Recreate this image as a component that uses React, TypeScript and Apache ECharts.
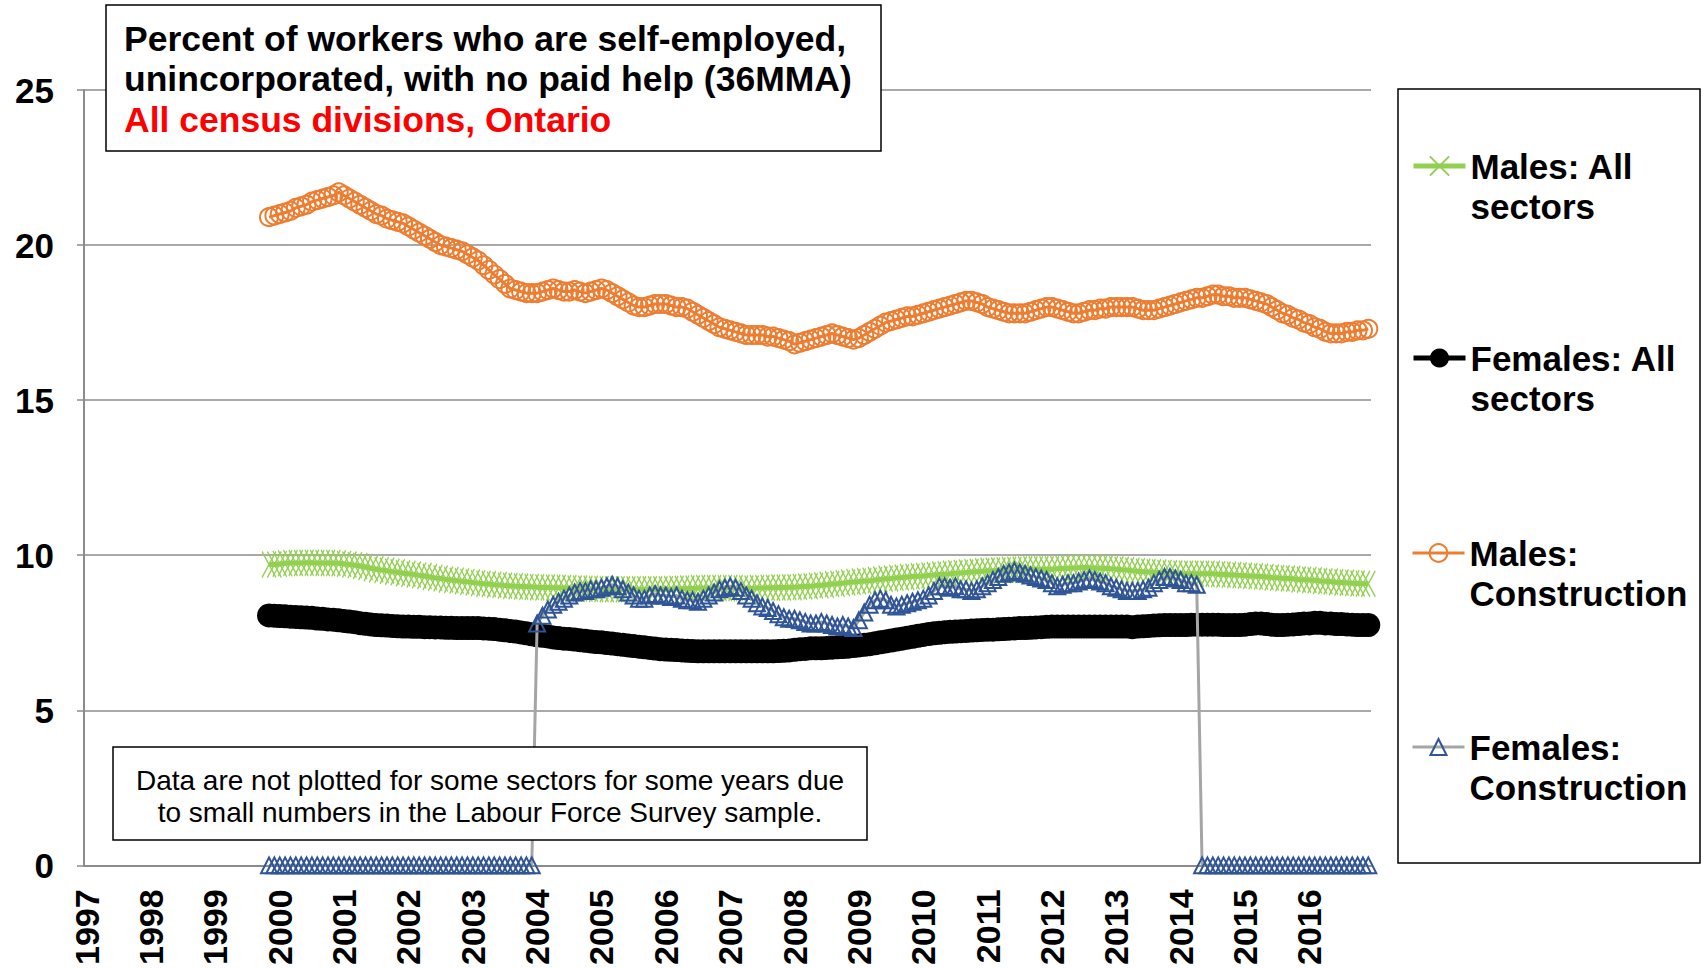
import React, { useEffect, useRef } from "react";
import * as echarts from "echarts";

const YEARS = ["1997","1998","1999","2000","2001","2002","2003","2004","2005","2006","2007","2008","2009","2010","2011","2012","2013","2014","2015","2016"];
const MONTHS = ["01","02","03","04","05","06","07","08","09","10","11","12"];
const FIRST_DATA_MONTH = "1999-11";
const Y_TICKS = [0, 5, 10, 15, 20, 25];

const SERIES_NAMES = ["Males: All sectors", "Females: All sectors", "Males: Construction", "Females: Construction"];
const LEGEND_LABELS = ["Males: All\nsectors", "Females: All\nsectors", "Males:\nConstruction", "Females:\nConstruction"];

// Values from Nov 1999 to Dec 2016
const MALES_ALL = [
  9.7, 9.7,
  9.72, 9.74, 9.75, 9.75, 9.75, 9.76, 9.76, 9.75, 9.75, 9.75, 9.75, 9.74,
  9.72, 9.7, 9.68, 9.65, 9.62, 9.58, 9.55, 9.52, 9.5, 9.47, 9.45, 9.42,
  9.4, 9.38, 9.35, 9.33, 9.3, 9.27, 9.25, 9.22, 9.2, 9.18, 9.16, 9.14,
  9.12, 9.1, 9.08, 9.07, 9.05, 9.04, 9.02, 9.01, 9.0, 8.99, 8.98, 8.98,
  8.97, 8.96, 8.96, 8.95, 8.95, 8.94, 8.94, 8.93, 8.93, 8.92, 8.92, 8.91,
  8.91, 8.9, 8.9, 8.9, 8.9, 8.9, 8.9, 8.9, 8.9, 8.9, 8.9, 8.9,
  8.9, 8.91, 8.92, 8.92, 8.93, 8.93, 8.94, 8.94, 8.94, 8.94, 8.94, 8.94,
  8.94, 8.94, 8.93, 8.93, 8.93, 8.94, 8.94, 8.95, 8.95, 8.96, 8.96, 8.97,
  8.97, 8.98, 8.99, 9.0, 9.02, 9.03, 9.05, 9.07, 9.08, 9.1, 9.12, 9.14,
  9.15, 9.17, 9.18, 9.2, 9.22, 9.24, 9.25, 9.27, 9.28, 9.3, 9.31, 9.32,
  9.33, 9.35, 9.36, 9.38, 9.39, 9.4, 9.42, 9.43, 9.44, 9.46, 9.47, 9.48,
  9.5, 9.5, 9.51, 9.52, 9.53, 9.53, 9.54, 9.55, 9.55, 9.55, 9.55, 9.55,
  9.55, 9.56, 9.57, 9.58, 9.59, 9.6, 9.6, 9.6, 9.59, 9.58, 9.57, 9.56,
  9.55, 9.53, 9.52, 9.5, 9.48, 9.47, 9.46, 9.45, 9.44, 9.43, 9.42, 9.41,
  9.4, 9.4, 9.4, 9.4, 9.4, 9.4, 9.4, 9.39, 9.38, 9.37, 9.36, 9.35,
  9.34, 9.33, 9.32, 9.31, 9.3, 9.28, 9.27, 9.26, 9.25, 9.24, 9.22, 9.21,
  9.2, 9.19, 9.17, 9.16, 9.15, 9.13, 9.12, 9.11, 9.1, 9.09, 9.08, 9.08
];

const FEMALES_ALL = [
  8.06, 8.05,
  8.04, 8.03, 8.02, 8.01, 8.0, 7.99, 7.98, 7.96, 7.95, 7.93, 7.92, 7.9,
  7.88, 7.86, 7.84, 7.81, 7.79, 7.77, 7.75, 7.74, 7.73, 7.72, 7.71, 7.7,
  7.7, 7.69, 7.69, 7.68, 7.68, 7.67, 7.67, 7.66, 7.66, 7.65, 7.65, 7.65,
  7.65, 7.65, 7.64, 7.63, 7.62, 7.6, 7.58, 7.56, 7.54, 7.51, 7.48, 7.45,
  7.42, 7.4, 7.38, 7.35, 7.33, 7.31, 7.3, 7.28, 7.26, 7.24, 7.22, 7.2,
  7.19, 7.17, 7.15, 7.13, 7.11, 7.09, 7.07, 7.05, 7.03, 7.01, 6.99, 6.97,
  6.96, 6.95, 6.94, 6.93, 6.92, 6.91, 6.9, 6.9, 6.9, 6.9, 6.9, 6.9,
  6.9, 6.9, 6.9, 6.9, 6.9, 6.9, 6.9, 6.9, 6.9, 6.91, 6.92, 6.93,
  6.95, 6.97, 6.98, 7.0, 7.0, 7.0, 7.01, 7.02, 7.03, 7.04, 7.05, 7.07,
  7.09, 7.11, 7.13, 7.16, 7.19, 7.22, 7.25, 7.28, 7.31, 7.34, 7.37, 7.4,
  7.43, 7.46, 7.48, 7.5, 7.52, 7.53, 7.54, 7.55, 7.56, 7.57, 7.58, 7.59,
  7.6, 7.6, 7.61, 7.62, 7.63, 7.64, 7.65, 7.65, 7.66, 7.67, 7.68, 7.69,
  7.7, 7.7, 7.7, 7.7, 7.7, 7.7, 7.7, 7.7, 7.7, 7.7, 7.7, 7.7,
  7.7, 7.7, 7.7, 7.68, 7.7, 7.71, 7.72, 7.73, 7.74, 7.75, 7.75, 7.75,
  7.75, 7.75, 7.76, 7.76, 7.76, 7.76, 7.76, 7.76, 7.75, 7.75, 7.75, 7.75,
  7.76, 7.78, 7.8, 7.8, 7.78, 7.76, 7.75, 7.75, 7.76, 7.77, 7.78, 7.8,
  7.8, 7.82, 7.82, 7.8, 7.8, 7.78, 7.78, 7.77, 7.76, 7.75, 7.75, 7.75
];

const MALES_CONSTRUCTION = [
  20.9, 20.95,
  21.0, 21.05, 21.1, 21.2, 21.25, 21.3, 21.4, 21.45, 21.5, 21.55, 21.6, 21.7,
  21.6, 21.5, 21.4, 21.3, 21.2, 21.1, 21.0, 20.95, 20.85, 20.8, 20.75, 20.7,
  20.6, 20.5, 20.4, 20.3, 20.2, 20.1, 20.0, 19.95, 19.9, 19.85, 19.8, 19.7,
  19.6, 19.5, 19.35, 19.2, 19.05, 18.9, 18.75, 18.6, 18.55, 18.5, 18.45, 18.45,
  18.45, 18.5, 18.55, 18.6, 18.55, 18.5, 18.5, 18.55, 18.5, 18.45, 18.5, 18.55,
  18.6, 18.55, 18.45, 18.35, 18.25, 18.15, 18.05, 18.0, 18.0, 18.05, 18.1, 18.1,
  18.1, 18.05, 18.0, 18.0, 17.95, 17.85, 17.75, 17.65, 17.55, 17.45, 17.35, 17.3,
  17.25, 17.2, 17.15, 17.1, 17.1, 17.1, 17.1, 17.05, 17.05, 17.0, 16.95, 16.9,
  16.8, 16.85, 16.9, 16.95, 17.0, 17.05, 17.1, 17.15, 17.1, 17.05, 17.0, 16.95,
  17.0, 17.1, 17.2, 17.3, 17.4, 17.5, 17.55, 17.6, 17.65, 17.7, 17.7, 17.75,
  17.8, 17.85, 17.9, 17.95, 18.0, 18.05, 18.1, 18.15, 18.2, 18.2, 18.15, 18.1,
  18.0, 17.95, 17.9, 17.85, 17.8, 17.8, 17.8, 17.8, 17.85, 17.9, 17.95, 18.0,
  18.0, 17.95, 17.9, 17.85, 17.8, 17.8, 17.85, 17.9, 17.9, 17.95, 17.95, 18.0,
  18.0, 18.0, 18.0, 18.0, 17.95, 17.9, 17.9, 17.9, 17.95, 18.0, 18.05, 18.1,
  18.15, 18.2, 18.25, 18.3, 18.3, 18.35, 18.4, 18.4, 18.35, 18.35, 18.3, 18.3,
  18.3, 18.25, 18.2, 18.15, 18.1, 18.0, 17.9, 17.8, 17.75, 17.65, 17.6, 17.5,
  17.45, 17.35, 17.3, 17.2, 17.15, 17.15, 17.15, 17.2, 17.2, 17.25, 17.25, 17.3
];

const FEMALES_CONSTRUCTION = [
  0, 0,
  0, 0, 0, 0, 0, 0, 0, 0, 0, 0, 0, 0,
  0, 0, 0, 0, 0, 0, 0, 0, 0, 0, 0, 0,
  0, 0, 0, 0, 0, 0, 0, 0, 0, 0, 0, 0,
  0, 0, 0, 0, 0, 0, 0, 0, 0, 0, 0, 0,
  7.8, 8.05, 8.25, 8.4, 8.5, 8.6, 8.7, 8.8, 8.85, 8.85, 8.9, 8.9,
  8.95, 9.0, 9.05, 9.0, 8.9, 8.8, 8.7, 8.6, 8.6, 8.7, 8.75, 8.7,
  8.7, 8.65, 8.7, 8.6, 8.55, 8.55, 8.5, 8.6, 8.7, 8.8, 8.9, 8.95,
  9.0, 8.95, 8.85, 8.7, 8.6, 8.45, 8.35, 8.3, 8.2, 8.1, 8.0, 7.95,
  7.95, 7.9, 7.85, 7.8, 7.8, 7.85, 7.8, 7.75, 7.7, 7.75, 7.7, 7.65,
  7.9, 8.15, 8.4, 8.55, 8.6, 8.55, 8.4, 8.35, 8.4, 8.45, 8.5, 8.55,
  8.6, 8.7, 8.85, 9.0, 9.0, 8.95, 9.0, 8.9, 8.9, 8.85, 8.9, 9.0,
  9.1, 9.2, 9.3, 9.4, 9.45, 9.5, 9.45, 9.4, 9.35, 9.3, 9.25, 9.2,
  9.1, 9.0, 9.05, 9.1, 9.1, 9.15, 9.2, 9.25, 9.2, 9.15, 9.1, 9.0,
  8.95, 8.9, 8.85, 8.85, 8.85, 8.9, 8.95, 9.1, 9.2, 9.3, 9.3, 9.25,
  9.2, 9.1, 9.1, 9.05, 0, 0, 0, 0, 0, 0, 0, 0,
  0, 0, 0, 0, 0, 0, 0, 0, 0, 0, 0, 0,
  0, 0, 0, 0, 0, 0, 0, 0, 0, 0, 0, 0
];

const FONT = '"Liberation Sans", Arial, sans-serif';
const GRID_GREY = "#8c8c8c";

export default function App() {
  const ref = useRef<HTMLDivElement>(null);

  useEffect(() => {
    document.body.style.margin = "0";
    const chart = echarts.init(ref.current!, null, { renderer: "svg" });
    const categories = YEARS.flatMap((y) => MONTHS.map((m) => `${y}-${m}`));
    const offset = categories.indexOf(FIRST_DATA_MONTH);
    const pad = (arr: number[]) => [...new Array(offset).fill(null), ...arr];

    const legendTops = [106, 298, 492, 685];
    const legendLineWidths = [5, 5, 3, 3];
    const legendItemHeights = [24, 24, 22, 20];
    const legends = SERIES_NAMES.map((name, i) => ({
      data: [name],
      left: 1411,
      top: legendTops[i] - (legendItemHeights[i] / 2 - 12),
      padding: 0,
      itemWidth: 52,
      itemHeight: legendItemHeights[i],
      selectedMode: false,
      formatter: () => " \n" + LEGEND_LABELS[i],
      lineStyle: { width: legendLineWidths[i] },
      textStyle: {
        fontFamily: FONT,
        fontSize: 35,
        fontWeight: "bold",
        color: "#000",
        lineHeight: 40,
      },
    }));

    const boxText = (x: number, y: number, text: string, font: string, fill: string, align = "left") => ({
      type: "text",
      z: 101,
      x,
      y,
      style: { text, font, fill, align, verticalAlign: "middle" },
    });

    const option = {
      animation: false,
      backgroundColor: "#fff",
      grid: { left: 84, top: 90, width: 1287, height: 776, containLabel: false },
      legend: legends,
      xAxis: {
        type: "category",
        data: categories,
        boundaryGap: true,
        axisLine: { lineStyle: { color: GRID_GREY, width: 2 } },
        axisTick: { interval: 0, length: 9, lineStyle: { color: GRID_GREY, width: 1 } },
        axisLabel: {
          interval: 11,
          rotate: 90,
          margin: 24,
          fontFamily: FONT,
          fontSize: 34,
          fontWeight: "bold",
          color: "#000",
          formatter: (v: string) => v.slice(0, 4),
        },
        splitLine: { show: false },
      },
      yAxis: {
        type: "value",
        min: Y_TICKS[0],
        max: Y_TICKS[Y_TICKS.length - 1],
        interval: 5,
        axisLine: { show: true, lineStyle: { color: GRID_GREY, width: 2 } },
        axisTick: { show: true, length: 7, lineStyle: { color: GRID_GREY, width: 1.5 } },
        axisLabel: {
          margin: 30,
          fontFamily: FONT,
          fontSize: 35,
          fontWeight: "bold",
          color: "#000",
        },
        splitLine: { lineStyle: { color: GRID_GREY, width: 1.5 } },
      },
      series: [
        {
          name: SERIES_NAMES[0],
          type: "line",
          data: pad(MALES_ALL),
          showAllSymbol: true,
          symbol: "path://M0,0L12,10M12,0L0,10",
          symbolSize: [14, 26],
          lineStyle: { color: "#92D050", width: 5 },
          itemStyle: { color: "transparent", borderColor: "#92D050", borderWidth: 1.5 },
          z: 2,
        },
        {
          name: SERIES_NAMES[1],
          type: "line",
          data: pad(FEMALES_ALL),
          showAllSymbol: true,
          symbol: "circle",
          symbolSize: 24,
          lineStyle: { color: "#000", width: 4 },
          itemStyle: { color: "#000", borderColor: "#000", borderWidth: 0 },
          z: 3,
        },
        {
          name: SERIES_NAMES[2],
          type: "line",
          data: pad(MALES_CONSTRUCTION),
          showAllSymbol: true,
          symbol: "circle",
          symbolSize: 18,
          lineStyle: { color: "#ED7D31", width: 3 },
          itemStyle: { color: "transparent", borderColor: "#ED7D31", borderWidth: 2 },
          z: 4,
        },
        {
          name: SERIES_NAMES[3],
          type: "line",
          data: pad(FEMALES_CONSTRUCTION),
          showAllSymbol: true,
          symbol: "triangle",
          symbolSize: 16,
          lineStyle: { color: "#A5A5A5", width: 3 },
          itemStyle: { color: "transparent", borderColor: "#2F5597", borderWidth: 2 },
          z: 5,
        },
      ],
      graphic: [
        {
          type: "rect",
          z: 50,
          shape: { x: 1398, y: 89, width: 302, height: 774 },
          style: { fill: "transparent", stroke: "#000", lineWidth: 1.5 },
        },
        {
          type: "rect",
          z: 100,
          shape: { x: 106, y: 5, width: 775, height: 146 },
          style: { fill: "#fff", stroke: "#000", lineWidth: 1.5 },
        },
        boxText(124, 39, "Percent of workers who are self-employed,", `bold 35.5px ${FONT}`, "#000"),
        boxText(124, 79, "unincorporated, with no paid help (36MMA)", `bold 35.5px ${FONT}`, "#000"),
        boxText(124, 120, "All census divisions, Ontario", `bold 35.5px ${FONT}`, "#FF0000"),
        {
          type: "rect",
          z: 100,
          shape: { x: 113, y: 747, width: 754, height: 93 },
          style: { fill: "#fff", stroke: "#000", lineWidth: 1.5 },
        },
        boxText(490, 780, "Data are not plotted for some sectors for some years due", `28px ${FONT}`, "#000", "center"),
        boxText(490, 812, "to small numbers in the Labour Force Survey sample.", `28px ${FONT}`, "#000", "center"),
      ],
    };

    chart.setOption(option as any);
    return () => chart.dispose();
  }, []);

  return <div ref={ref} style={{ width: 1706, height: 968 }} />;
}
